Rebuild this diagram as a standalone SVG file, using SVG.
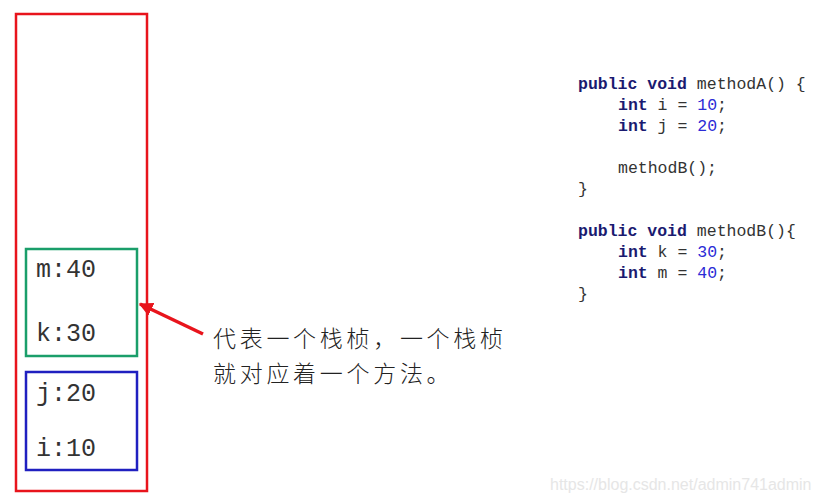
<svg xmlns="http://www.w3.org/2000/svg" width="818" height="503" viewBox="0 0 818 503">
<defs>
<style>
.frame{fill:none;stroke-width:2.5}
.var{font-family:"Liberation Mono","Courier New",monospace;font-size:25px;fill:#333}
.code{font-family:"Liberation Mono","DejaVu Sans Mono",monospace;font-size:16.5px;fill:#333}
.kw{fill:#1a1a70;font-weight:bold}
.num{fill:#2b2bd6}
.note{font-family:"Noto Sans CJK SC",sans-serif;font-size:23px;font-weight:300;fill:#222;letter-spacing:3.7px}
.wm{font-family:"Liberation Sans",Arial,sans-serif;font-size:16px;fill:#e6e6e6}
</style>
<marker id="ah" viewBox="0 0 10 10" refX="9" refY="5" markerWidth="4" markerHeight="4" orient="auto-start-reverse" markerUnits="strokeWidth">
<path d="M0,0 L10,5 L0,10 z" fill="#e8141c"/>
</marker>
</defs>
<rect width="818" height="503" fill="#ffffff"/>
<g id="stack">
<rect class="frame" x="16" y="14" width="131" height="477" stroke="#e8141c"/>
</g>
<g id="frameB">
<rect class="frame" x="26" y="249" width="111" height="107" stroke="#1a9e6a"/>
<text class="var" x="36" y="277">m:40</text>
<text class="var" x="36" y="341">k:30</text>
</g>
<g id="frameA">
<rect class="frame" x="26" y="372" width="111" height="98" stroke="#2020c0"/>
<text class="var" x="36" y="401">j:20</text>
<text class="var" x="36" y="456">i:10</text>
</g>
<g id="connectors">
<line x1="203" y1="334" x2="140" y2="304" stroke="#e8141c" stroke-width="3.5" marker-end="url(#ah)"/>
</g>
<g id="note">
<text class="note" x="213" y="347">代表一个栈桢，一个栈桢</text>
<text class="note" x="213" y="381.5">就对应着一个方法。</text>
</g>
<g id="code" class="code">
<text x="578" y="89"><tspan class="kw">public void</tspan> methodA() {</text>
<text x="618" y="110"><tspan class="kw">int</tspan> i = <tspan class="num">10</tspan>;</text>
<text x="618" y="131"><tspan class="kw">int</tspan> j = <tspan class="num">20</tspan>;</text>
<text x="618" y="173">methodB();</text>
<text x="578" y="194">}</text>
<text x="578" y="236"><tspan class="kw">public void</tspan> methodB(){</text>
<text x="618" y="257"><tspan class="kw">int</tspan> k = <tspan class="num">30</tspan>;</text>
<text x="618" y="278"><tspan class="kw">int</tspan> m = <tspan class="num">40</tspan>;</text>
<text x="578" y="299">}</text>
</g>
<text class="wm" x="550" y="490">https://blog.csdn.net/admin741admin</text>
</svg>
